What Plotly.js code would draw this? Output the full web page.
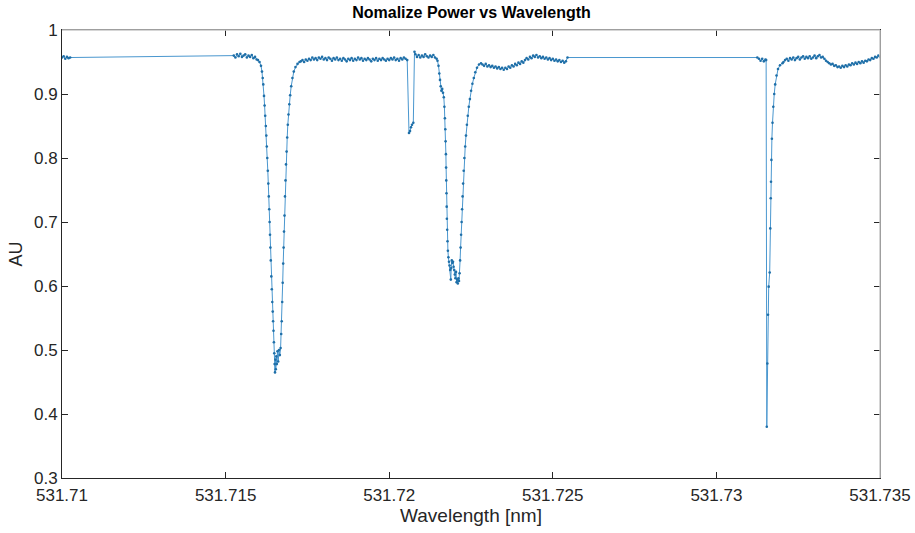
<!DOCTYPE html>
<html>
<head>
<meta charset="utf-8">
<script src="https://cdn.plot.ly/plotly-3.0.1.min.js"></script>
<style>html,body{margin:0;padding:0;background:#fff}#chart{width:915px;height:533px}</style>
</head>
<body>
<div id="chart"></div>
<script>
// Segment A: left edge
const wlA = [531.71000, 531.71005, 531.71010, 531.71015, 531.71020, 531.71025];
const pA  = [0.957, 0.959, 0.955, 0.958, 0.956, 0.957];

// Segment B: noisy baseline before dip 1
const wlB = [531.71525, 531.71530, 531.71535, 531.71540, 531.71545, 531.71550, 531.71555, 531.71560,
             531.71565, 531.71570, 531.71575, 531.71580, 531.71585, 531.71590, 531.71595];
const pB  = [0.960, 0.957, 0.962, 0.959, 0.963, 0.958, 0.960, 0.962, 0.957, 0.960, 0.958, 0.961, 0.956, 0.958, 0.954];

// Dip 1
const wlDip1 = [531.715990, 531.716036, 531.716082, 531.716112, 531.716134, 531.716152, 531.716174, 531.716192,
  531.716210, 531.716229, 531.716244, 531.716259, 531.716274, 531.716290, 531.716305, 531.716320, 531.716333,
  531.716345, 531.716357, 531.716369, 531.716381, 531.716397, 531.716412, 531.716427, 531.716440, 531.716452,
  531.716464, 531.716476, 531.716488, 531.716498, 531.716510, 531.716522, 531.716534, 531.716550, 531.716565,
  531.716586, 531.716608, 531.716632, 531.716657, 531.716681, 531.716699, 531.716715, 531.716730, 531.716745,
  531.716760, 531.716773, 531.716785, 531.716800, 531.716815, 531.716831, 531.716846, 531.716864, 531.716883,
  531.716901, 531.716922, 531.716947, 531.716974, 531.717005, 531.717042, 531.717084, 531.717136, 531.717197,
  531.717259];
const pDip1 = [0.953, 0.950, 0.944, 0.935, 0.925, 0.915, 0.897, 0.882,
  0.866, 0.850, 0.835, 0.818, 0.800, 0.780, 0.760, 0.740, 0.720,
  0.700, 0.680, 0.660, 0.640, 0.615, 0.595, 0.575, 0.560, 0.545,
  0.530, 0.512, 0.495, 0.478, 0.465, 0.485, 0.470, 0.490, 0.478,
  0.498, 0.482, 0.500, 0.492, 0.503, 0.525, 0.545, 0.575, 0.605,
  0.635, 0.660, 0.685, 0.710, 0.740, 0.765, 0.790, 0.810, 0.832,
  0.852, 0.868, 0.884, 0.898, 0.912, 0.925, 0.935, 0.942, 0.947,
  0.950];

// Segment C: noisy baseline between dip 1 and the step
const wlC = [531.71730, 531.71735, 531.71740, 531.71745, 531.71750, 531.71755, 531.71760, 531.71765, 531.71770,
  531.71775, 531.71780, 531.71785, 531.71790, 531.71795, 531.71800, 531.71805, 531.71810, 531.71815, 531.71820,
  531.71825, 531.71830, 531.71835, 531.71840, 531.71845, 531.71850, 531.71855, 531.71860, 531.71865, 531.71870,
  531.71875, 531.71880, 531.71885, 531.71890, 531.71895, 531.71900, 531.71905, 531.71910, 531.71915, 531.71920,
  531.71925, 531.71930, 531.71935, 531.71940, 531.71945, 531.71950, 531.71955, 531.71960, 531.71965, 531.71970,
  531.71975, 531.71980, 531.71985, 531.71990, 531.71995, 531.72000, 531.72005, 531.72010, 531.72015, 531.72020,
  531.72025, 531.72030, 531.72035, 531.72040, 531.72045, 531.72050, 531.72055];
const pC = [0.951, 0.953, 0.950, 0.954, 0.952, 0.955, 0.953, 0.957, 0.954,
  0.956, 0.953, 0.957, 0.955, 0.958, 0.954, 0.956, 0.953, 0.957, 0.955,
  0.952, 0.956, 0.954, 0.957, 0.953, 0.955, 0.952, 0.956, 0.954, 0.951,
  0.955, 0.953, 0.956, 0.952, 0.955, 0.953, 0.957, 0.954, 0.956, 0.952,
  0.955, 0.953, 0.956, 0.954, 0.951, 0.955, 0.953, 0.956, 0.952, 0.955,
  0.953, 0.956, 0.954, 0.952, 0.955, 0.953, 0.956, 0.954, 0.957, 0.953,
  0.955, 0.952, 0.956, 0.954, 0.957, 0.955, 0.953];

// Step glitch
const wlStep = [531.720605, 531.720636, 531.720666, 531.720697, 531.720737, 531.720773];
const pStep  = [0.839, 0.842, 0.848, 0.852, 0.855, 0.966];

// Segment D: short noisy baseline before dip 2
const wlD = [531.72080, 531.72085, 531.72090, 531.72095, 531.72100, 531.72105, 531.72110,
  531.72115, 531.72120, 531.72125, 531.72130, 531.72135, 531.72140, 531.72145];
const pD = [0.962, 0.958, 0.961, 0.957, 0.960, 0.958, 0.962, 0.959, 0.957, 0.960, 0.958, 0.961, 0.957, 0.955];

// Dip 2
const wlDip2 = [531.721476, 531.721507, 531.721531, 531.721553, 531.721574, 531.721595, 531.721620, 531.721644,
  531.721669, 531.721687, 531.721702, 531.721715, 531.721724, 531.721733, 531.721739, 531.721745, 531.721751,
  531.721757, 531.721763, 531.721773, 531.721782, 531.721794, 531.721809, 531.721828, 531.721846, 531.721864,
  531.721883, 531.721895, 531.721913, 531.721932, 531.721950, 531.721968, 531.721987, 531.722005, 531.722023,
  531.722042, 531.722060, 531.722078, 531.722097, 531.722115, 531.722133, 531.722152, 531.722167, 531.722182,
  531.722197, 531.722213, 531.722228, 531.722243, 531.722259, 531.722277, 531.722298, 531.722323, 531.722347,
  531.722375, 531.722402, 531.722433, 531.722466, 531.722503, 531.722543, 531.722586, 531.722631, 531.722683,
  531.722745, 531.722806];
const pDip2 = [0.952, 0.944, 0.932, 0.922, 0.912, 0.905, 0.908, 0.902,
  0.895, 0.880, 0.862, 0.845, 0.826, 0.806, 0.785, 0.765, 0.745,
  0.724, 0.705, 0.688, 0.670, 0.655, 0.645, 0.638, 0.632, 0.625,
  0.610, 0.628, 0.640, 0.636, 0.638, 0.630, 0.625, 0.618, 0.612,
  0.622, 0.606, 0.610, 0.604, 0.612, 0.608, 0.620, 0.640, 0.660,
  0.680, 0.700, 0.720, 0.740, 0.760, 0.780, 0.800, 0.818, 0.835,
  0.852, 0.866, 0.880, 0.892, 0.905, 0.916, 0.925, 0.934, 0.941,
  0.946, 0.948];

// Segment E: noisy baseline after dip 2
const wlE = [531.72285, 531.72290, 531.72295, 531.72300, 531.72305, 531.72310, 531.72315, 531.72320, 531.72325,
  531.72330, 531.72335, 531.72340, 531.72345, 531.72350, 531.72355, 531.72360, 531.72365, 531.72370, 531.72375,
  531.72380, 531.72385, 531.72390, 531.72395, 531.72400, 531.72405, 531.72410, 531.72415, 531.72420, 531.72425,
  531.72430, 531.72435, 531.72440, 531.72445, 531.72450, 531.72455, 531.72460, 531.72465, 531.72470, 531.72475,
  531.72480, 531.72485, 531.72490, 531.72495, 531.72500, 531.72505, 531.72510, 531.72515, 531.72520, 531.72525,
  531.72530, 531.72535, 531.72540, 531.72545];
const pE = [0.946, 0.944, 0.947, 0.943, 0.945, 0.942, 0.944, 0.941, 0.943,
  0.940, 0.942, 0.939, 0.941, 0.938, 0.941, 0.939, 0.943, 0.941, 0.945,
  0.943, 0.947, 0.945, 0.949, 0.947, 0.951, 0.949, 0.953, 0.956, 0.954,
  0.958, 0.956, 0.960, 0.958, 0.961, 0.957, 0.959, 0.956, 0.958, 0.955,
  0.957, 0.954, 0.956, 0.953, 0.955, 0.952, 0.954, 0.951, 0.953, 0.950,
  0.952, 0.949, 0.951, 0.957];

// Segment F: short baseline before the narrow dip
const wlF = [531.73125, 531.73130, 531.73135, 531.73140, 531.73145, 531.73150, 531.73152];
const pF  = [0.957, 0.955, 0.952, 0.955, 0.951, 0.954, 0.953];

// Narrow dip 3
const wlDip3 = [531.731540, 531.731556, 531.731577, 531.731598, 531.731629, 531.731647, 531.731660, 531.731669,
  531.731681, 531.731696, 531.731715, 531.731739, 531.731767, 531.731797, 531.731837, 531.731883, 531.731944,
  531.732020];
const pDip3 = [0.380, 0.479, 0.555, 0.599, 0.621, 0.690, 0.737, 0.763,
  0.797, 0.830, 0.855, 0.880, 0.900, 0.915, 0.929, 0.939, 0.945,
  0.948];

// Segment G: noisy baseline to the right edge
const wlG = [531.73205, 531.73210, 531.73215, 531.73220, 531.73225, 531.73230, 531.73235, 531.73240, 531.73245,
  531.73250, 531.73255, 531.73260, 531.73265, 531.73270, 531.73275, 531.73280, 531.73285, 531.73290, 531.73295,
  531.73300, 531.73305, 531.73310, 531.73315, 531.73320, 531.73325, 531.73330, 531.73335, 531.73340, 531.73345,
  531.73350, 531.73355, 531.73360, 531.73365, 531.73370, 531.73375, 531.73380, 531.73385, 531.73390, 531.73395,
  531.73400, 531.73405, 531.73410, 531.73415, 531.73420, 531.73425, 531.73430, 531.73435, 531.73440, 531.73445,
  531.73450, 531.73455, 531.73460, 531.73465, 531.73470, 531.73475, 531.73480, 531.73485, 531.73490, 531.73495,
  531.73500];
const pG = [0.950, 0.953, 0.955, 0.952, 0.956, 0.954, 0.957, 0.953, 0.956,
  0.958, 0.954, 0.957, 0.959, 0.955, 0.958, 0.956, 0.959, 0.955, 0.957,
  0.960, 0.956, 0.959, 0.961, 0.957, 0.958, 0.955, 0.952, 0.950, 0.948,
  0.946, 0.947, 0.944, 0.945, 0.942, 0.943, 0.941, 0.944, 0.942, 0.945,
  0.943, 0.946, 0.945, 0.948, 0.946, 0.949, 0.947, 0.950, 0.948, 0.951,
  0.949, 0.952, 0.951, 0.954, 0.953, 0.956, 0.955, 0.958, 0.957, 0.960,
  0.958];

const xTickVals = [531.71, 531.715, 531.72, 531.725, 531.73, 531.735];
const xTickText = ['531.71', '531.715', '531.72', '531.725', '531.73', '531.735'];
const yTickVals = [0.3, 0.4, 0.5, 0.6, 0.7, 0.8, 0.9, 1];
const yTickText = ['0.3', '0.4', '0.5', '0.6', '0.7', '0.8', '0.9', '1'];

const wavelength = [].concat(wlA, wlB, wlDip1, wlC, wlStep, wlD, wlDip2, wlE, wlF, wlDip3, wlG);
const power = [].concat(pA, pB, pDip1, pC, pStep, pD, pDip2, pE, pF, pDip3, pG);

const trace = {
  x: wavelength, y: power, type: 'scatter', mode: 'lines+markers',
  line: {color: '#4a97cf', width: 1},
  marker: {color: '#1f6fa8', size: 2.6},
  hoverinfo: 'x+y'
};

const FAM = 'Liberation Sans, Arial, sans-serif';
const axisFont = {family: FAM, size: 17, color: '#262626'};
const layout = {
  width: 915, height: 533,
  margin: {l: 62, r: 35, t: 30, b: 55},
  paper_bgcolor: '#ffffff', plot_bgcolor: '#ffffff',
  showlegend: false,
  title: {text: '<b>Nomalize Power vs Wavelength</b>', x: 0.5153, xanchor: 'center', y: 0.977, yanchor: 'middle',
          font: {family: FAM, size: 16, color: '#000000'}},
  xaxis: {
    range: [531.71, 531.735], tickvals: xTickVals, ticktext: xTickText,
    showgrid: false, zeroline: false, showline: true, linecolor: '#262626', linewidth: 1,
    mirror: 'ticks', ticks: 'inside', ticklen: 6, tickcolor: '#262626', tickfont: axisFont,
    ticklabelstandoff: 2,
    title: {text: 'Wavelength [nm]', standoff: 2, font: {family: FAM, size: 19, color: '#262626'}}
  },
  yaxis: {
    range: [0.3, 1], tickvals: yTickVals, ticktext: yTickText,
    showgrid: false, zeroline: false, showline: true, linecolor: '#262626', linewidth: 1,
    mirror: 'ticks', ticks: 'inside', ticklen: 6, tickcolor: '#262626', tickfont: axisFont,
    title: {text: 'AU', standoff: 6, font: {family: FAM, size: 18, color: '#262626'}}
  },
  shapes: [
    {type: 'line', xref: 'paper', yref: 'paper', x0: 0, x1: 1, y0: 1, y1: 1, line: {color: '#c8c8c8', width: 1.5}, layer: 'above'},
    {type: 'line', xref: 'paper', yref: 'paper', x0: 1, x1: 1, y0: 0, y1: 1, line: {color: '#c8c8c8', width: 1.5}, layer: 'above'}
  ]
};

Plotly.newPlot('chart', [trace], layout, {displayModeBar: false, staticPlot: true});
</script>
</body>
</html>
